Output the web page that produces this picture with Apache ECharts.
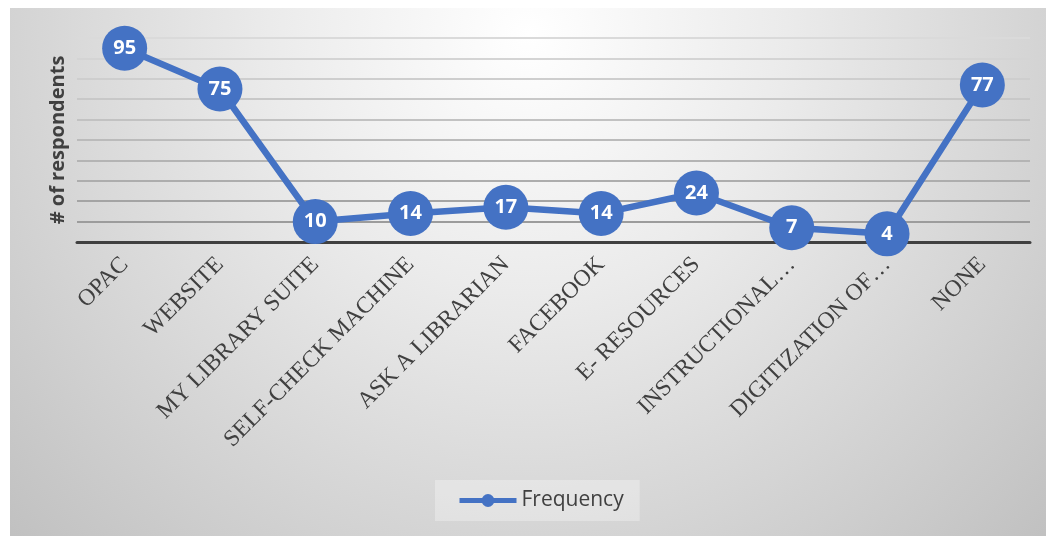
<!DOCTYPE html>
<html>
<head>
<meta charset="utf-8">
<script src="https://cdn.jsdelivr.net/npm/echarts@6/dist/echarts.min.js"></script>
<style>
  html, body { margin: 0; padding: 0; background: #fff; }
  #chart { position: absolute; left: 10px; top: 8px; width: 1036px; height: 528px; }
</style>
</head>
<body>
<div id="chart"></div>
<script>
  // categories as printed under the axis (long ones are cut off in the source)
  var categories = ['OPAC', 'WEBSITE', 'MY LIBRARY SUITE', 'SELF-CHECK MACHINE', 'ASK A LIBRARIAN',
    'FACEBOOK', 'E- RESOURCES', 'INSTRUCTIONAL…', 'DIGITIZATION OF…', 'NONE'];
  var frequency = [95, 75, 10, 14, 17, 14, 24, 7, 4, 77];
  var seriesName = 'Frequency';
  var yName = '# of respondents';

  var blue = '#4472C4';
  var textColor = '#404040';

  var chart = echarts.init(document.getElementById('chart'));
  chart.setOption({
    animation: false,
    backgroundColor: {
      type: 'radial', x: 0.5, y: 0.05, r: 1.4,
      colorStops: [
        {offset: 0, color: '#ffffff'},
        {offset: 0.35, color: '#ebebeb'},
        {offset: 1, color: '#bfbfbf'}
      ]
    },
    grid: {left: 67, right: 16, top: 30, bottom: 294},
    legend: {
      data: [seriesName],
      left: 425,
      top: 472,
      padding: [10, 16, 10, 22],
      backgroundColor: 'rgba(255,255,255,0.3)',
      itemWidth: 57,
      itemHeight: 16,
      itemGap: 2,
      lineStyle: {width: 5},
      textStyle: {fontFamily: 'Open Sans', fontSize: 21, color: textColor}
    },
    xAxis: {
      type: 'category',
      data: categories,
      axisLine: {lineStyle: {color: textColor, width: 3}},
      axisTick: {show: false},
      axisLabel: {
        rotate: 45,
        interval: 0,
        margin: 19,
        fontFamily: 'Liberation Serif',
        fontSize: 23.5,
        color: textColor
      }
    },
    yAxis: {
      type: 'value',
      min: 0,
      max: 100,
      interval: 10,
      name: yName,
      nameLocation: 'middle',
      nameGap: 9,
      nameTextStyle: {fontFamily: 'Open Sans', fontSize: 20, fontWeight: 'bold', color: textColor},
      axisLabel: {show: false},
      axisLine: {show: false},
      axisTick: {show: false},
      splitLine: {
        lineStyle: {
          width: 2,
          color: ['#8f8f8f', '#9c9c9c', '#a4a4a4', '#adadad', '#b4b4b4', '#bbbbbb',
            '#c2c2c2', '#c8c8c8', '#cecece', '#d4d4d4', '#dadada']
        }
      }
    },
    series: [{
      name: seriesName,
      type: 'line',
      data: frequency,
      symbol: 'circle',
      symbolSize: 45,
      lineStyle: {color: blue, width: 6.5},
      itemStyle: {color: blue},
      label: {
        show: true,
        position: 'inside',
        color: '#fff',
        fontFamily: 'Open Sans',
        fontWeight: 'bold',
        fontSize: 20
      }
    }]
  });
</script>
</body>
</html>
